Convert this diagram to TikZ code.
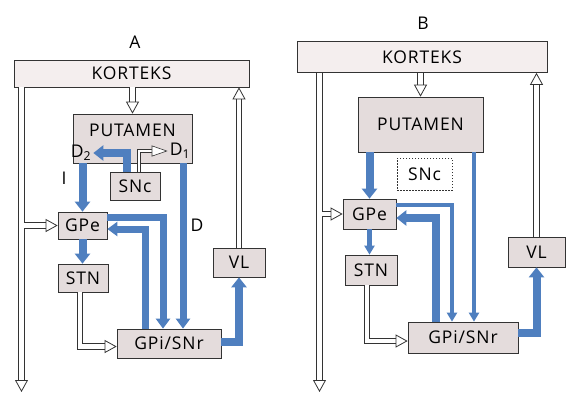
\documentclass[tikz,border=0pt]{standalone}
\usepackage{fontspec}
\setmainfont[LetterSpace=5]{Open Sans}
\usetikzlibrary{arrows.meta,calc}
\definecolor{boxfill}{HTML}{E4DCDC}
\definecolor{korfill}{HTML}{F4EEEE}
\definecolor{arrowblue}{HTML}{4F7FBF}
\definecolor{edgecol}{HTML}{333333}
\begin{document}
\begin{tikzpicture}[x=1pt,y=-1pt,
  txt/.style={inner sep=0pt, font=\fontsize{17.5}{19}\selectfont, text=black},
  box/.style={draw=edgecol, line width=0.7pt, fill=boxfill, inner sep=0pt, font=\fontsize{17.5}{19}\selectfont, text=black},
  kort/.style={box, fill=korfill},
  dbox/.style={box, fill=white, dash pattern=on 1.5pt off 1.5pt},
  bthick/.style={draw=arrowblue, line width=8pt, line join=miter, -{Triangle[width=15pt,length=10pt]}},
  bmid/.style={draw=arrowblue, line width=7pt, line join=miter, -{Triangle[width=14pt,length=10pt]}},
  bthin/.style={draw=arrowblue, line width=4.5pt, line join=miter, -{Triangle[width=10pt,length=9pt]}},
  hshaft/.style={draw=edgecol, line width=0.8pt, double=white, double distance=4.5pt, line join=miter},
  hhead/.style={draw=edgecol, line width=0.8pt, -{Triangle[fill=white,width=13pt,length=12pt]}},
  hsshaft/.style={draw=edgecol, line width=0.6pt, double=white, double distance=2.6pt, line join=miter},
  hshead/.style={draw=edgecol, line width=0.6pt, -{Triangle[fill=white,width=11pt,length=16pt]}},
]
\useasboundingbox (0,0) rectangle (577,394);

%% ---------------- Panel A ----------------
\node[txt] (labA) at (135,42) {A};
\node[kort, minimum width=235pt, minimum height=27pt] (korA) at (131.5,73.5) {KORTEKS};
\node[box, minimum width=119pt, minimum height=49pt] (putA) at (132.5,138.5) {};
\node[txt] (putAt) at (132.5,130) {PUTAMEN};
\node[txt] (d2A) at (81,153) {D\textsubscript{2}};
\node[txt] (d1A) at (180,151) {D\textsubscript{1}};
\node[box, minimum width=50pt, minimum height=28pt] (snA) at (135,186) {SNc};
\node[box, minimum width=49pt, minimum height=27pt] (gpeA) at (82.5,225.5) {GPe};
\node[box, minimum width=50pt, minimum height=28pt] (stnA) at (83,278) {STN};
\node[box, minimum width=104pt, minimum height=29pt] (gpiA) at (169,343.5) {GPi/SNr};
\node[box, minimum width=52pt, minimum height=29pt] (vlA) at (239,262.5) {VL};
\node[txt] (labIA) at (64,178) {I};
\node[txt] (labDA) at (197,225) {D};
\coordinate (lA) at (21.5,392);
\coordinate (lAr) at (24.3,392);
\coordinate (dA) at (183,0);
\coordinate (oA) at (163,0);
\coordinate (iA) at (145,0);

% hollow arrows A
\draw[hshaft, shorten >=11pt] (lA |- korA.south) -- (lA);
\draw[hhead] ($(lA)+(0,-2)$) -- (lA);
\draw[hshaft, shorten >=11pt] (lAr |- gpeA.west) -- (gpeA.west);
\draw[hhead] ($(gpeA.west)+(-2,0)$) -- (gpeA.west);
\draw[hshaft, shorten >=11pt] (putA.north |- korA.south) -- (putA.north);
\draw[hhead] ($(putA.north)+(0,-2)$) -- (putA.north);
\draw[hshaft, shorten >=11pt] (vlA.north) -- (vlA.north |- korA.south);
\draw[hhead] ($(vlA.north |- korA.south)+(0,2)$) -- (vlA.north |- korA.south);
\draw[hshaft, shorten >=11pt] ([xshift=-3pt]stnA.south) |- ([yshift=-3pt]gpiA.west);
\draw[hhead] ($([yshift=-3pt]gpiA.west)+(-2,0)$) -- ([yshift=-3pt]gpiA.west);
\draw[hsshaft, shorten >=15pt] ([xshift=4pt]snA.north) |- ([xshift=-2pt]d1A.west);
\draw[hshead] ($([xshift=-2pt]d1A.west)+(-2,0)$) -- ([xshift=-2pt]d1A.west);

% blue arrows A
\draw[bthick] ([xshift=-8pt]snA.north) |- ([xshift=2pt]d2A.east);
\draw[bthick] (putA.south -| gpeA.north) -- (gpeA.north);
\draw[bmid] (putA.south -| dA) -- (gpiA.north -| dA);
\draw[bthick] (gpeA.south) -- (gpeA.south |- stnA.north);
\draw[bmid] ([yshift=8.5pt]gpeA.east) -| (gpiA.north -| oA);
\draw[bmid] (gpiA.north -| iA) |- ([yshift=-3.5pt]gpeA.east);
\draw[bthick] ([yshift=1.5pt]gpiA.east) -| (vlA.south);

%% ---------------- Panel B ----------------
\node[txt] (labB) at (423,23) {B};
\node[kort, minimum width=250pt, minimum height=31pt] (korB) at (422,57) {KORTEKS};
\node[box, minimum width=125pt, minimum height=55pt] (putB) at (420.5,124.5) {PUTAMEN};
\node[dbox, minimum width=55pt, minimum height=32pt] (snB) at (424.5,174) {SNc};
\node[box, minimum width=53pt, minimum height=30pt] (gpeB) at (369.5,214) {GPe};
\node[box, minimum width=52pt, minimum height=30pt] (stnB) at (371,270) {STN};
\node[box, minimum width=110pt, minimum height=31pt] (gpiB) at (463,337.5) {GPi/SNr};
\node[box, minimum width=57pt, minimum height=30pt] (vlB) at (536.5,252) {VL};
\coordinate (lB) at (319.5,392);
\coordinate (lBr) at (322.3,392);
\coordinate (dB) at (474,0);
\coordinate (oB) at (452,0);
\coordinate (iB) at (436,0);

% hollow arrows B
\draw[hshaft, shorten >=11pt] (lB |- korB.south) -- (lB);
\draw[hhead] ($(lB)+(0,-2)$) -- (lB);
\draw[hshaft, shorten >=11pt] (lBr |- gpeB.west) -- (gpeB.west);
\draw[hhead] ($(gpeB.west)+(-2,0)$) -- (gpeB.west);
\draw[hshaft, shorten >=11pt] (putB.north |- korB.south) -- (putB.north);
\draw[hhead] ($(putB.north)+(0,-2)$) -- (putB.north);
\draw[hshaft, shorten >=11pt] (vlB.north) -- (vlB.north |- korB.south);
\draw[hhead] ($(vlB.north |- korB.south)+(0,2)$) -- (vlB.north |- korB.south);
\draw[hshaft, shorten >=11pt] ([xshift=-4pt]stnB.south) |- ([yshift=-3.5pt]gpiB.west);
\draw[hhead] ($([yshift=-3.5pt]gpiB.west)+(-2,0)$) -- ([yshift=-3.5pt]gpiB.west);

% blue arrows B
\draw[bthick] (putB.south -| gpeB.north) -- (gpeB.north);
\draw[bthin] (putB.south -| dB) -- (gpiB.north -| dB);
\draw[bthin] (gpeB.south) -- (gpeB.south |- stnB.north);
\draw[bthin] ([yshift=9pt]gpeB.east) -| (gpiB.north -| oB);
\draw[bthick] (gpiB.north -| iB) |- ([yshift=-4pt]gpeB.east);
\draw[bthick] ([yshift=4.5pt]gpiB.east) -| (vlB.south);
\end{tikzpicture}
\end{document}
